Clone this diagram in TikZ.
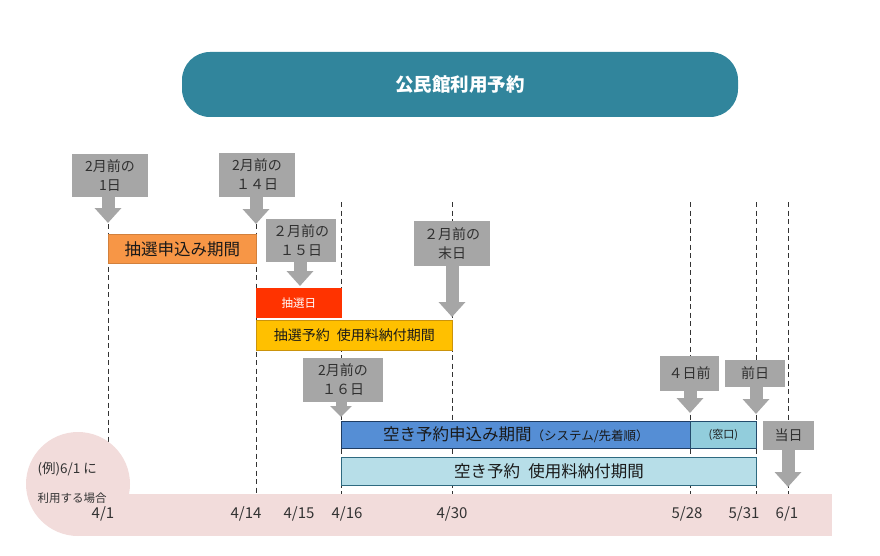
\documentclass[tikz,border=0pt]{standalone}
\usepackage{fontspec}
\setmainfont{Noto Sans CJK JP}
\usepackage{xcolor}
\usepackage{tikz}
\usetikzlibrary{arrows.meta,positioning}
\definecolor{titleteal}{HTML}{31859C}
\definecolor{callgray}{HTML}{A6A6A6}
\definecolor{calltext}{HTML}{303030}
\definecolor{lotorange}{HTML}{F79646}
\definecolor{lotred}{HTML}{FF3300}
\definecolor{lotgold}{HTML}{FFC000}
\definecolor{freeblue}{HTML}{558ED5}
\definecolor{freenavy}{HTML}{1F3D63}
\definecolor{windowblue}{HTML}{92CDDC}
\definecolor{paylight}{HTML}{B7DEE8}
\definecolor{payedge}{HTML}{2E6A80}
\definecolor{pinkband}{HTML}{F2DCDB}
\newcommand{\fsz}[2]{\fontsize{#1}{#2}\selectfont}

\begin{document}
\begin{tikzpicture}[
  x=1pt,y=-1pt,
  title/.style={fill=titleteal,rounded corners=28pt,text=white,font=\bfseries\fsz{18.5}{22},minimum width=556pt,minimum height=65pt},
  callout/.style={fill=callgray,text=calltext,align=center,inner sep=0pt,font=\fsz{14}{19}},
  callarr/.style={-{Triangle[width=26pt,length=15pt]},line width=13pt,draw=callgray},
  bar/.style={anchor=north west,inner sep=0pt,line width=0.8pt,text=black!90},
  guide/.style={dash pattern=on 5pt off 3.5pt,line width=0.8pt,draw=black!80},
  datelbl/.style={text=black!80,font=\fsz{15}{17}}
]
\useasboundingbox (0,0) rectangle (880,556);

% title
\node[title] (title) at (460,84.5) {公民館利用予約};

% guide lines
\foreach \x/\top in {108/224,256/224,341/202,452/202,690/202,756/202,788/202}
  \draw[guide] (\x,\top) -- (\x,494);

% pink date band
\fill[pinkband] (78,494) rectangle (832,536);
\fill[pinkband] (78,484) circle[radius=52];
\node[anchor=west,text=black!80,font=\fsz{13.5}{15}] (example) at (34,469) {(例)6/1 に};
\node[anchor=west,text=black!80,font=\fsz{11.5}{13}] (usecase) at (34,498) {利用する場合};

\node[datelbl] (d0401) at (103,514) {4/1};
\node[datelbl] (d0414) at (246,514) {4/14};
\node[datelbl] (d0415) at (299,514) {4/15};
\node[datelbl] (d0416) at (347,514) {4/16};
\node[datelbl] (d0430) at (452,514) {4/30};
\node[datelbl] (d0528) at (687,514) {5/28};
\node[datelbl] (d0531) at (744,514) {5/31};
\node[datelbl] (d0601) at (787,514) {6/1};

% bars
\node[bar,draw=lotorange!85!black,fill=lotorange,minimum width=148pt,minimum height=29pt,font=\fsz{16.5}{18}] (lotapp) at (108,234) {抽選申込み期間};
\node[bar,draw=lotred,fill=lotred,text=white,minimum width=85pt,minimum height=29pt,font=\fsz{11.5}{13}] (lotday) at (256,288) {抽選日};
\node[bar,draw=lotgold!80!lotorange!80!black,fill=lotgold,minimum width=196pt,minimum height=30pt,font=\fsz{14}{16}] (lotpay) at (256,320) {抽選予約\hspace{0.5em}使用料納付期間};
\node[bar,draw=freenavy,fill=freeblue,minimum width=349pt,minimum height=27pt,font=\fsz{16.5}{18}] (freeapp) at (341,421) {空き予約申込み期間{\fsz{12.5}{14}（システム/先着順）}};
\node[bar,draw=freenavy!70!payedge,fill=windowblue,minimum width=66pt,minimum height=27pt,font=\fsz{11}{13}] (window) at (690,421) {(窓口)};
\node[bar,draw=payedge,fill=paylight,minimum width=415pt,minimum height=28pt,font=\fsz{16.5}{18}] (freepay) at (341,457) {空き予約\hspace{0.5em}使用料納付期間};

% callouts
\node[callout,minimum width=76pt,minimum height=43pt] (c1) at (110,175.5) {2月前の\\1日};
\node[callout,minimum width=76pt,minimum height=44pt] (c14) at (257,175) {2月前の\\１４日};
\node[callout,minimum width=70pt,minimum height=43pt] (c15) at (301,240.5) {２月前の\\１５日};
\node[callout,minimum width=76pt,minimum height=45pt] (cend) at (452,243.5) {２月前の\\末日};
\node[callout,minimum width=80pt,minimum height=44pt] (c16) at (343,380) {2月前の\\１６日};
\node[callout,minimum width=59pt,minimum height=35pt] (c4) at (689.5,373.5) {４日前};
\node[callout,minimum width=60pt,minimum height=27pt] (cprev) at (755,373.5) {前日};
\node[callout,minimum width=51pt,minimum height=29pt] (ctoday) at (788.5,435.5) {当日};

\coordinate (c1-tip) at (108,223);
\coordinate (c14-tip) at (256,224);
\coordinate (c15-tip) at (300,286);
\coordinate (cend-tip) at (452,317);
\coordinate (c16-tip) at (341,417);
\coordinate (c4-tip) at (690,413);
\coordinate (cprev-tip) at (756,414);
\coordinate (ctoday-tip) at (788,487);

\foreach \n in {c1,c14,c15,cend,c4,cprev,ctoday}
  \draw[callarr] (\n-tip |- \n.south) -- (\n-tip);
\draw[callarr,-{Triangle[width=21pt,length=11pt]},line width=11pt] (c16-tip |- c16.south) -- (c16-tip);
\end{tikzpicture}
\end{document}
